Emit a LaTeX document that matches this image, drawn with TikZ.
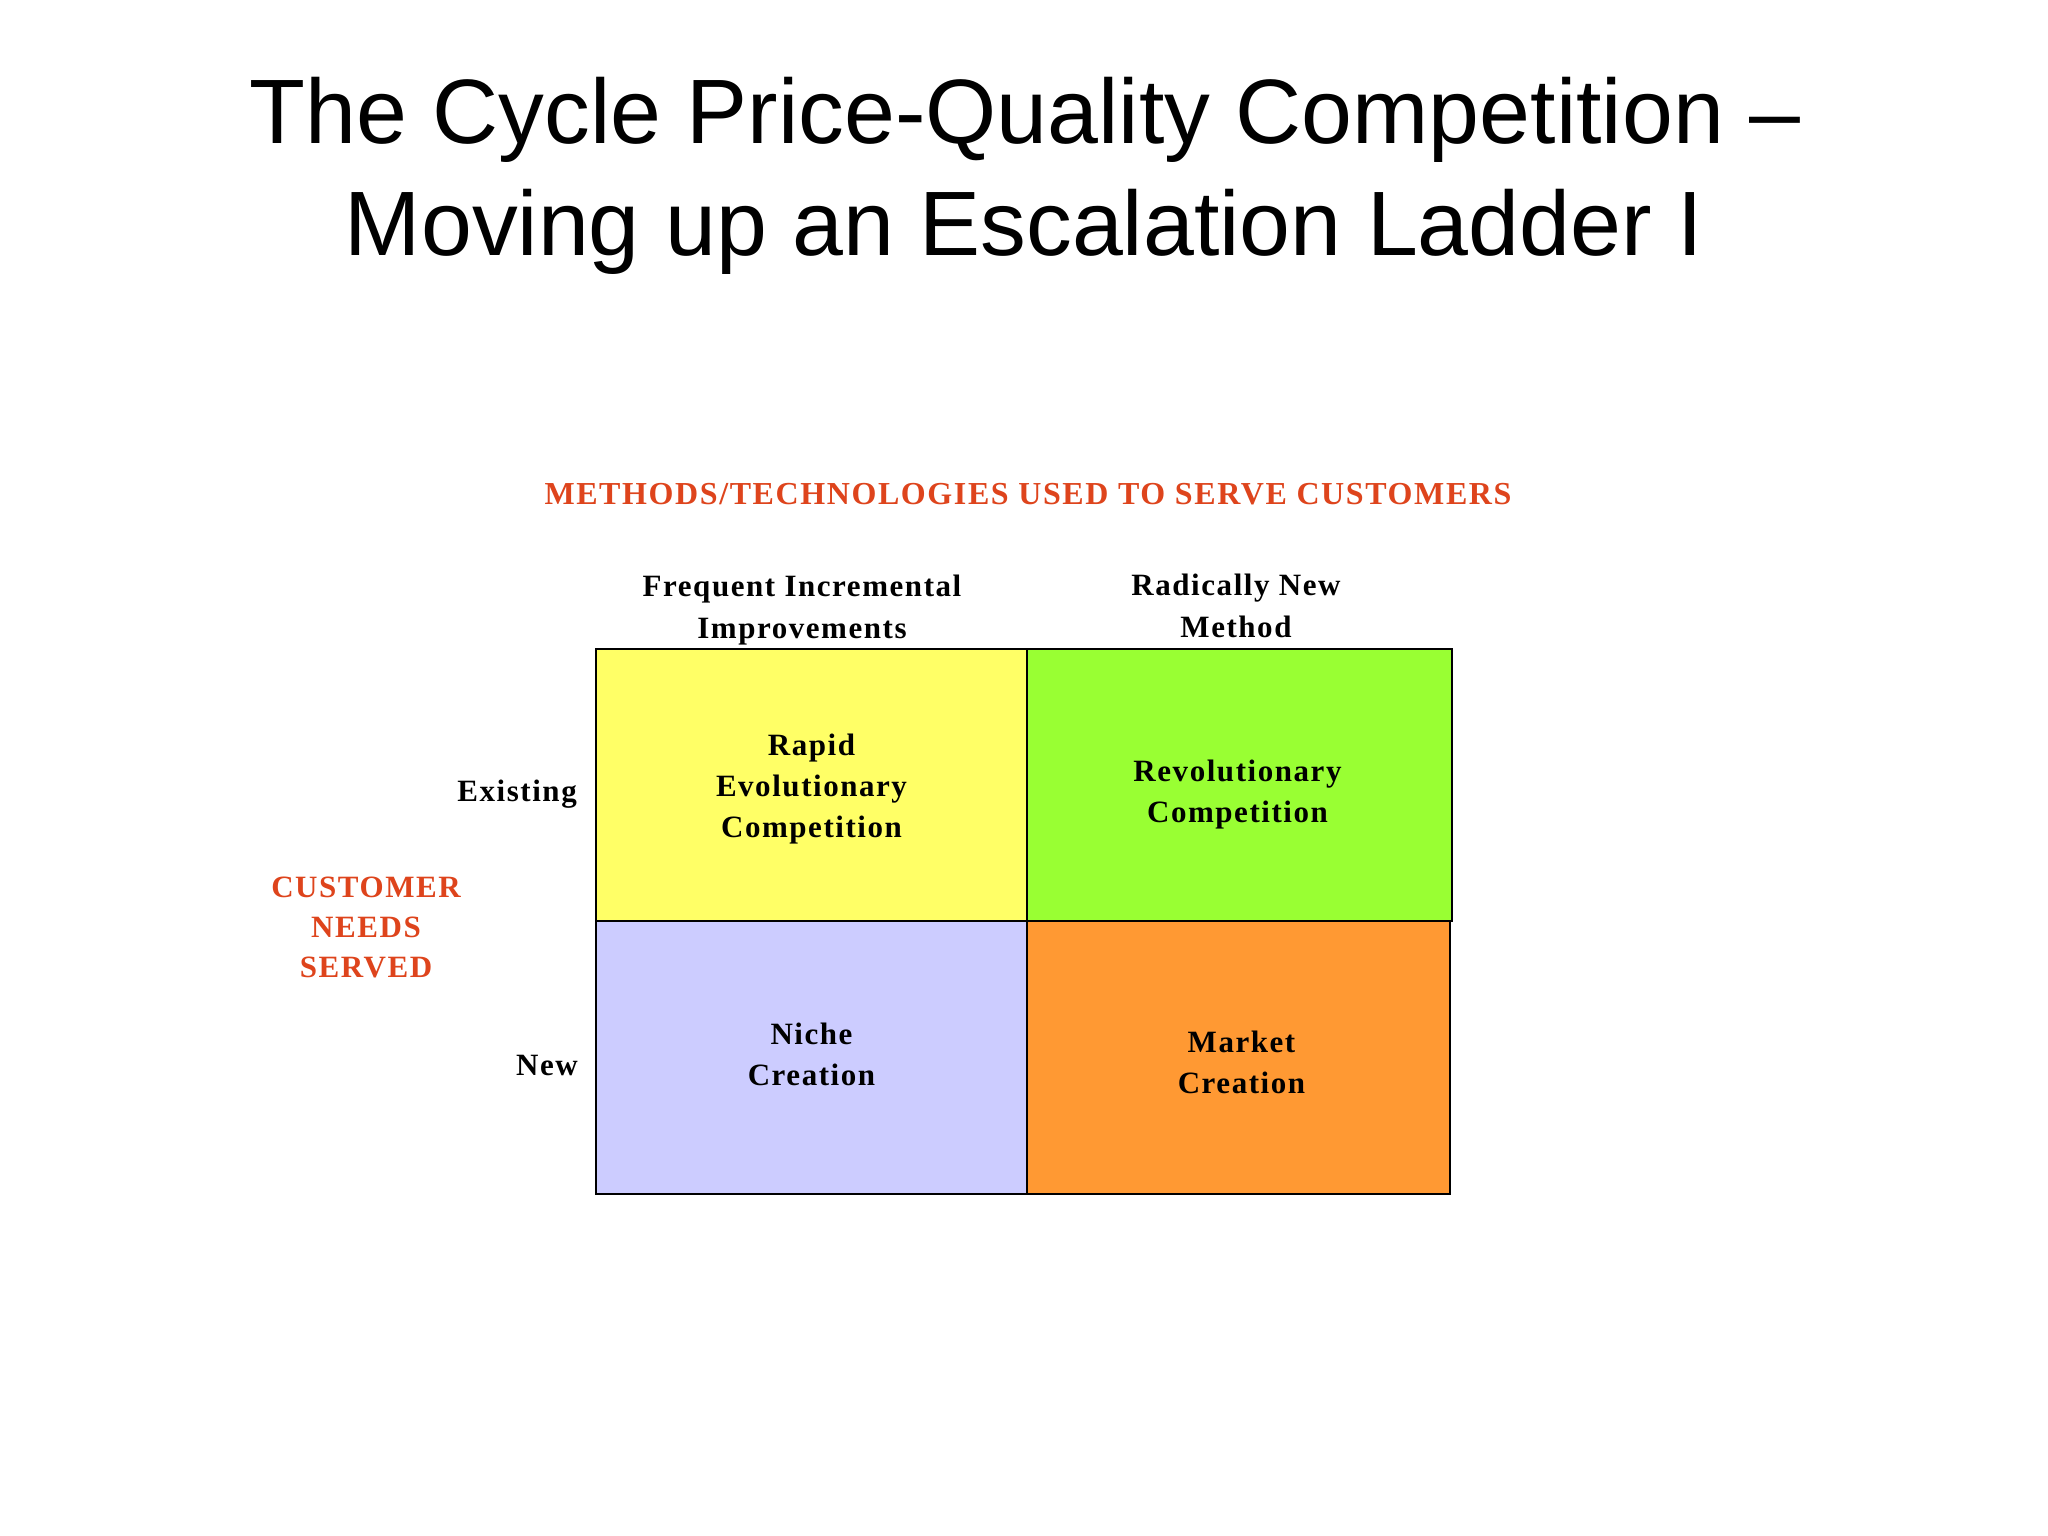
\documentclass[tikz,border=0pt]{standalone}
\usepackage{fontspec}
\setmainfont{Liberation Serif}[LetterSpace=5]
\newfontfamily\titlefont{Liberation Sans}
\definecolor{hdred}{RGB}{222,68,28}
\definecolor{cyellow}{RGB}{255,255,102}
\definecolor{cgreen}{RGB}{153,255,51}
\definecolor{clav}{RGB}{204,204,255}
\definecolor{corange}{RGB}{255,153,51}
\tikzset{
  titletext/.style={font=\titlefont\fontsize{91.5}{111}\selectfont, anchor=base, inner sep=0},
  redlabel/.style={font=\bfseries\fontsize{31}{40}\selectfont, text=hdred, align=center, inner sep=0},
  collabel/.style={font=\bfseries\fontsize{31}{42}\selectfont, align=center, inner sep=0},
  rowlabel/.style={font=\bfseries\fontsize{31}{42}\selectfont, inner sep=0},
  cell/.style={draw=black, line width=2pt, minimum width=431pt, minimum height=272pt, inner sep=0},
  celltext/.style={font=\bfseries\fontsize{31}{41}\selectfont, align=center, inner sep=0},
}
\begin{document}
\begin{tikzpicture}[x=1pt,y=-1pt]
\useasboundingbox[fill=white] (0,0) rectangle (2048,1536);
\node[titletext] (t1) at (1025,144) {The Cycle Price-Quality Competition –};
\node[titletext] (t2) at (1024,255) {Moving up an Escalation Ladder I};
\node[redlabel, font=\bfseries\fontsize{32}{40}\selectfont] (hdr) at (1028,494) {METHODS/TECHNOLOGIES USED TO SERVE CUSTOMERS};
\node[collabel] (col1) at (802,610) {Frequent Incremental\\Improvements};
\node[collabel] (col2) at (1236,606) {Radically New\\Method};
\node[rowlabel, anchor=east] (row1) at (577,794) {Existing};
\node[rowlabel, anchor=east] (row2) at (578,1065) {New};
\node[redlabel] (cust) at (366,927) {CUSTOMER\\NEEDS\\SERVED};
\node[cell, fill=cyellow] (c11) at (811.5,785) {};
\node[cell, fill=cgreen, minimum width=425pt] (c12) at (1239.5,785) {};
\node[cell, fill=clav, minimum height=273pt] (c21) at (811.5,1057.5) {};
\node[cell, fill=corange, minimum width=423pt, minimum height=273pt] (c22) at (1238.5,1057.5) {};
\node[celltext] (x11) at ([yshift=-4pt]c11.center) {Rapid\\Evolutionary\\Competition};
\node[celltext] (x12) at ([yshift=-10pt, xshift=-2pt]c12.center) {Revolutionary\\Competition};
\node[celltext] (x21) at ([yshift=3pt]c21.center) {Niche\\Creation};
\node[celltext] (x22) at ([yshift=-5pt, xshift=3pt]c22.center) {Market\\Creation};
\end{tikzpicture}
\end{document}
